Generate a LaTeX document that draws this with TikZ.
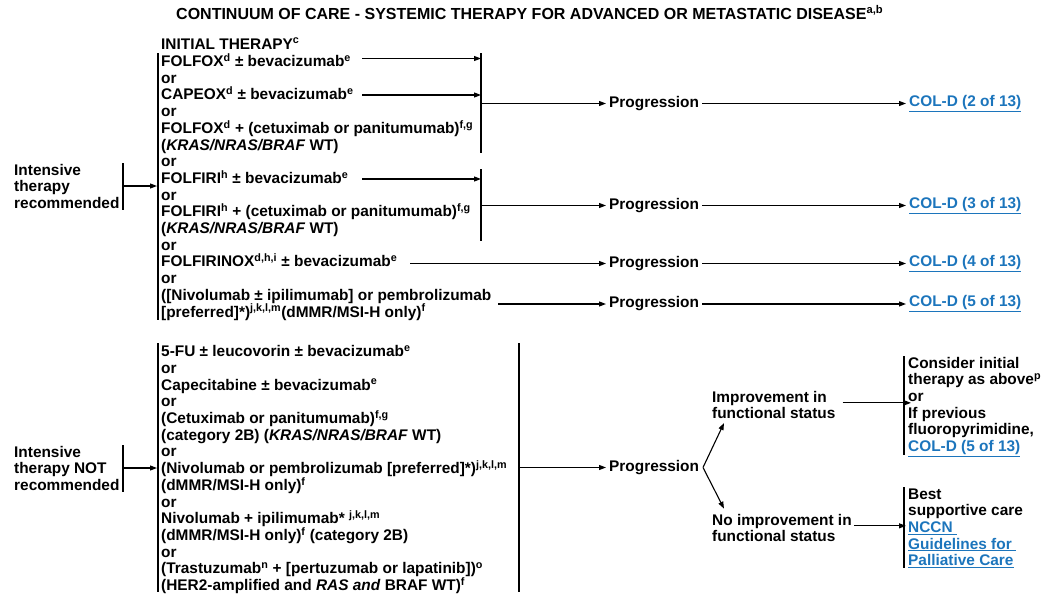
\documentclass[tikz,border=0pt]{standalone}
\usepackage{fontspec}
\setmainfont{Liberation Sans}
\usetikzlibrary{arrows.meta}
\definecolor{linkblue}{RGB}{28,117,188}
\newcommand{\lnk}[1]{{\color{linkblue}\underline{#1}}}
\newcommand{\sps}[1]{\textsuperscript{#1}}
\tikzset{
  txt/.style={font=\fontsize{15.4}{16.7}\selectfont\bfseries, inner sep=0pt, align=left, anchor=base west},
  lbl/.style={font=\fontsize{15.4}{16.7}\selectfont\bfseries, inner xsep=3pt, inner ysep=0pt, anchor=west},
  conn/.style={line width=1.1pt},
  arr/.style={conn, -{Triangle[length=7pt,width=5pt]}},
}
\begin{document}
\begin{tikzpicture}[x=1pt,y=-1pt]
\useasboundingbox (0,0) rectangle (1057,608);
% title
\node[txt, font=\fontsize{16}{18}\selectfont\bfseries] (title) at (176,19.5) {CONTINUUM OF CARE - SYSTEMIC THERAPY FOR ADVANCED OR METASTATIC DISEASE\sps{a,b}};
% ---------- upper part ----------
% (base anchor of a multi-line node = baseline of its last line)
\node[txt] (init) at (161,49) {INITIAL THERAPY\sps{c}};
\node[txt] (ib) at (161,317) {FOLFOX\sps{d} ± bevacizumab\sps{e}\\ or\\ CAPEOX\sps{d} ± bevacizumab\sps{e}\\ or\\
FOLFOX\sps{d} + (cetuximab or panitumumab)\sps{f,g}\\ (\textit{KRAS/NRAS/BRAF} WT)\\ or\\
FOLFIRI\sps{h} ± bevacizumab\sps{e}\\ or\\ FOLFIRI\sps{h} + (cetuximab or panitumumab)\sps{f,g}\\
(\textit{KRAS/NRAS/BRAF} WT)\\ or\\ FOLFIRINOX\sps{d,h,i} ± bevacizumab\sps{e}\\ or\\
([Nivolumab ± ipilimumab] or pembrolizumab\\ {[}preferred]*)\sps{j,k,l,m}(dMMR/MSI-H only)\sps{f}};
\node[txt] (ir) at (14,208.4) {Intensive\\ therapy\\ recommended};
% left bar upper
\coordinate (lb1t) at (123,163); \coordinate (lb1b) at (123,210);
\draw[conn] (lb1t) -- (lb1b);
\coordinate (lb1m) at (123,186); \coordinate (ib1) at (157,186);
\draw[arr] (lb1m) -- (ib1);
\coordinate (ibt) at (158,53); \coordinate (ibb) at (158,320);
\draw[conn] (ibt) -- (ibb);
% group 1
\coordinate (g1t) at (481,53); \coordinate (g1b) at (481,153);
\draw[conn] (g1t) -- (g1b);
\coordinate (s1) at (362,58.5); \coordinate (s2) at (362,95);
\draw[arr] (s1) -- (s1 -| g1t);
\draw[arr] (s2) -- (s2 -| g1t);
\node[lbl] (p1) at (606,103.5) {Progression};
\node[lbl] (c1) at (906,103.5) {\lnk{COL-D (2 of 13)}};
\draw[arr] (p1.west -| g1t) -- (p1.west);
\draw[arr] (p1.east) -- (c1.west);
% group 2
\coordinate (g2t) at (481,169); \coordinate (g2b) at (481,241);
\draw[conn] (g2t) -- (g2b);
\coordinate (s3) at (362,179);
\draw[arr] (s3) -- (s3 -| g2t);
\node[lbl] (p2) at (606,205.5) {Progression};
\node[lbl] (c2) at (906,205.5) {\lnk{COL-D (3 of 13)}};
\draw[arr] (p2.west -| g2t) -- (p2.west);
\draw[arr] (p2.east) -- (c2.west);
% group 3
\node[lbl] (p3) at (606,263.5) {Progression};
\node[lbl] (c3) at (906,263.5) {\lnk{COL-D (4 of 13)}};
\coordinate (s4) at (410,263.5);
\draw[arr] (s4) -- (p3.west);
\draw[arr] (p3.east) -- (c3.west);
% group 4
\node[lbl] (p4) at (606,304) {Progression};
\node[lbl] (c4) at (906,304) {\lnk{COL-D (5 of 13)}};
\coordinate (s5) at (498,304);
\draw[arr] (s5) -- (p4.west);
\draw[arr] (p4.east) -- (c4.west);
% ---------- lower part ----------
\node[txt] (nr) at (14,490.4) {Intensive\\ therapy NOT\\ recommended};
\coordinate (lb2t) at (123,445); \coordinate (lb2b) at (123,492);
\draw[conn] (lb2t) -- (lb2b);
\coordinate (lb2m) at (123,468); \coordinate (nb1) at (157,468);
\draw[arr] (lb2m) -- (nb1);
\node[txt] (nb) at (161,590.5) {5-FU ± leucovorin ± bevacizumab\sps{e}\\ or\\ Capecitabine ± bevacizumab\sps{e}\\ or\\
(Cetuximab or panitumumab)\sps{f,g}\\ (category 2B) (\textit{KRAS/NRAS/BRAF} WT)\\ or\\
(Nivolumab or pembrolizumab [preferred]*)\sps{j,k,l,m}\\ (dMMR/MSI-H only)\sps{f}\\ or\\
Nivolumab + ipilimumab* \sps{j,k,l,m}\\ (dMMR/MSI-H only)\sps{f} (category 2B)\\ or\\
(Trastuzumab\sps{n} + [pertuzumab or lapatinib])\sps{o}\\ (HER2-amplified and \textit{RAS and} BRAF WT)\sps{f}};
\coordinate (nbt) at (158,343); \coordinate (nbb) at (158,592);
\draw[conn] (nbt) -- (nbb);
\coordinate (g5t) at (519,343); \coordinate (g5b) at (519,592);
\draw[conn] (g5t) -- (g5b);
\node[lbl] (p5) at (606,467.5) {Progression};
\draw[arr] (p5.west -| g5t) -- (p5.west);
% branches
\node[txt] (imp) at (712,418.7) {Improvement in\\ functional status};
\node[txt] (nimp) at (712,541.7) {No improvement in\\ functional status};
\coordinate (fk) at (703,467.5);
\draw[arr] (fk) -- ([shift={(12,4)}]imp.south west);
\draw[arr] (fk) -- ([shift={(12,-5)}]nimp.north west);
% outcome boxes
\node[txt] (ci) at (908,451.5) {Consider initial\\ therapy as above\sps{p}\\ or\\ If previous\\ fluoropyrimidine,\\ \lnk{COL-D (5 of 13)}};
\coordinate (b3t) at (904,356); \coordinate (b3b) at (904,455);
\draw[conn] (b3t) -- (b3b);
\node[txt] (bs) at (908,565.8) {Best\\ supportive care\\ \lnk{NCCN\ }\\ \lnk{Guidelines for\ }\\ \lnk{Palliative Care}};
\coordinate (b4t) at (904,487); \coordinate (b4b) at (904,568);
\draw[conn] (b4t) -- (b4b);
\draw[arr] ([shift={(7,-2)}]imp.east) -- ([shift={(7,-2)}]imp.east -| b3t);
\draw[arr] ([shift={(2,-2)}]nimp.east) -- ([shift={(2,-2)}]nimp.east -| b4t);
\end{tikzpicture}
\end{document}
